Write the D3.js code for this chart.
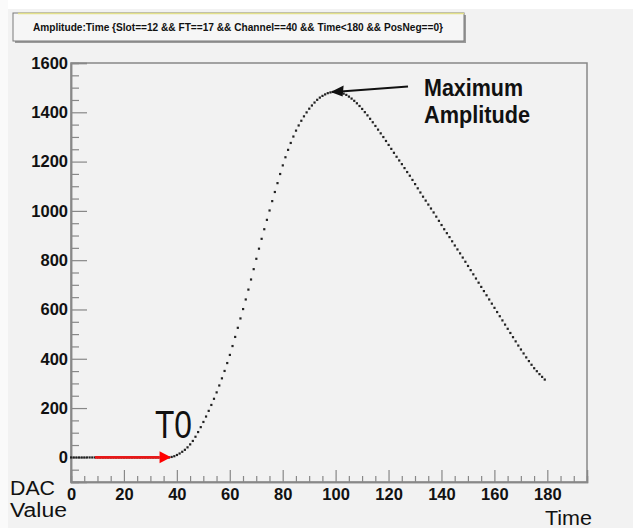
<!DOCTYPE html>
<html><head><meta charset="utf-8">
<script src="https://cdn.jsdelivr.net/npm/d3@7"></script>
<style>html,body{margin:0;padding:0;background:#fff;}svg{display:block;}</style>
</head><body>
<script>
const titleText = "Amplitude:Time {Slot==12 && FT==17 && Channel==40 && Time<180 && PosNeg==0}";
const times = [0,1,2,3,4,5,6,7,8,9,10,11,12,13,14,15,16,17,18,19,20,21,22,23,24,25,26,27,28,29,30,31,32,33,34,35,36,37,38,39,40,41,42,43,44,45,46,47,48,49,50,51,52,53,54,55,56,57,58,59,60,61,62,63,64,65,66,67,68,69,70,71,72,73,74,75,76,77,78,79,80,81,82,83,84,85,86,87,88,89,90,91,92,93,94,95,96,97,98,99,100,101,102,103,104,105,106,107,108,109,110,111,112,113,114,115,116,117,118,119,120,121,122,123,124,125,126,127,128,129,130,131,132,133,134,135,136,137,138,139,140,141,142,143,144,145,146,147,148,149,150,151,152,153,154,155,156,157,158,159,160,161,162,163,164,165,166,167,168,169,170,171,172,173,174,175,176,177,178,179];
const amplitudes = [0,0,0,0,0,0,0,0,0,0,0,0,0,0,0,0,0,0,0,0,0,0,0,0,0,0,0,0,0,0,0,0,0,0,0,0,0,0,
 2,5,10,16,23,31,41,53,67,84,103,123,144,166,189,213,238,264,292,321,351,383,416,452,489,526,564,602,641,681,722,764,806,847,887,926,964,1002,1040,1077,1113,1150,1185,1218,1248,1276,1302,1326,1347,1366,1384,1400,1415,1428,1440,1451,1460,1467,1473,1478,1481,1483,
 1484,1483,1480,1476,1471,1464,1456,1447,1437,1426,1414,1401,1388,1374,1360,1345,1330,1315,1300,1284,1268,1252,1236,1220,1205,1190,1174,1158,1143,1126,1109,1092,1075,1058,1042,1026,1010,994,977,960,943,926,910,894,877,860,844,828,811,794,777,760,743,726,709,692,675,658,641,624,607,590,573,556,539,522,505,488,471,454,438,422,406,391,376,362,350,338,327,316];
const yTicks = [0,200,400,600,800,1000,1200,1400,1600];
const xTicks = [0,20,40,60,80,100,120,140,160,180];
const xDomain = [0,195];
const yDomain = [-100,1600];
const t0Time = 38, peakTime = 100, peakValue = 1484;

const W=633,H=528;
const svg=d3.select("body").append("svg").attr("width",W).attr("height",H);
svg.append("rect").attr("width",W).attr("height",H).attr("fill","#f2f2f2");
svg.append("rect").attr("width",W).attr("height",9).attr("fill","#ffffff");
svg.append("rect").attr("x",0).attr("y",0).attr("width",8).attr("height",H).attr("fill","#fafafa");

const L=71,R=587,T=63,B=482;
const x=d3.scaleLinear().domain(xDomain).range([L,R]);
const y=d3.scaleLinear().domain(yDomain).range([B,T]);

// title box
const tb=svg.append("g");
tb.append("rect").attr("x",15).attr("y",15).attr("width",451).attr("height",28).attr("fill","#9a9a9a");
tb.append("rect").attr("x",13).attr("y",13).attr("width",451).attr("height",28).attr("fill","#f6f6f6").attr("stroke","#7a7a7a").attr("stroke-width",1);
tb.append("line").attr("x1",18).attr("x2",464).attr("y1",13.5).attr("y2",13.5).attr("stroke","#e2e08a").attr("stroke-width",1.5);
tb.append("text").attr("x",238).attr("y",31).attr("text-anchor","middle")
 .attr("font-family","Liberation Sans, Arial, sans-serif").attr("font-weight","bold").attr("font-size",10)
 .attr("textLength",410).attr("lengthAdjust","spacingAndGlyphs").attr("fill","#111").text(titleText);

// frame
svg.append("rect").attr("x",L).attr("y",T).attr("width",R-L).attr("height",B-T)
 .attr("fill","none").attr("stroke","#888").attr("stroke-width",1.5);

const font="Liberation Sans, Arial, sans-serif";
// y axis
const yMinor=d3.range(-50,1600,50).filter(v=>v%200!==0);
const gy=svg.append("g").attr("transform",`translate(${L},0)`);
gy.call(d3.axisLeft(y).tickValues(yTicks).tickSize(-16).tickPadding(3).tickFormat(d3.format("d")));
const gym=svg.append("g").attr("transform",`translate(${L},0)`);
gym.call(d3.axisLeft(y).tickValues(yMinor).tickSize(-8).tickFormat(""));
// x axis
const xMinor=d3.range(5,195,5).filter(v=>v%20!==0);
const gx=svg.append("g").attr("transform",`translate(0,${B})`);
gx.call(d3.axisBottom(x).tickValues(xTicks).tickSize(-12).tickPadding(6).tickFormat(d3.format("d")));
const gxm=svg.append("g").attr("transform",`translate(0,${B})`);
gxm.call(d3.axisBottom(x).tickValues(xMinor).tickSize(-6).tickFormat(""));
[gy,gym,gx,gxm].forEach(g=>{
  g.select(".domain").attr("stroke","#888").attr("stroke-width",1.5);
  g.selectAll(".tick line").attr("stroke","#888").attr("stroke-width",1.2);
  g.selectAll(".tick text").attr("font-family",font).attr("font-weight","bold").attr("font-size",16.5).attr("fill","#111");
});

// points
svg.append("g").selectAll("rect").data(times).join("rect")
 .attr("x",(d,i)=>x(d)-1).attr("y",(d,i)=>y(amplitudes[i])-1).attr("width",2.2).attr("height",2.2).attr("fill","#222");

// red arrow (T0)
const ry=y(0);
svg.append("line").attr("x1",95).attr("x2",x(t0Time)-12).attr("y1",ry).attr("y2",ry)
 .attr("stroke","#e81818").attr("stroke-width",2.6);
svg.append("path").attr("d",`M${x(t0Time)-12},${ry-6}L${x(t0Time)-0.5},${ry}L${x(t0Time)-12},${ry+6}Z`).attr("fill","#ff0000");

// black arrow to maximum
const tipX=x(peakTime)-5, tipY=y(peakValue)+0.5;
svg.append("line").attr("x1",408).attr("y1",86.5).attr("x2",tipX+10).attr("y2",tipY-0.6)
 .attr("stroke","#111").attr("stroke-width",2.2);
svg.append("path").attr("d",`M${tipX},${tipY}L${tipX+13},${tipY-6.5}L${tipX+12},${tipY+4.5}Z`).attr("fill","#111");

// annotations
function txt(s,xx,yy,size,len,weight){
  return svg.append("text").attr("x",xx).attr("y",yy).attr("font-family",font).attr("font-size",size)
   .attr("font-weight",weight||"normal").attr("textLength",len).attr("lengthAdjust","spacingAndGlyphs").attr("fill","#111").text(s);
}
txt("Maximum",424,96,24,99,"bold");
txt("Amplitude",424,123,24,106,"bold");
txt("T0",155,438,38,37);
txt("DAC",10,495,19.5,45);
txt("Value",10,517,19.5,57);
txt("Time",545,525,21,47);
</script>
</body></html>
